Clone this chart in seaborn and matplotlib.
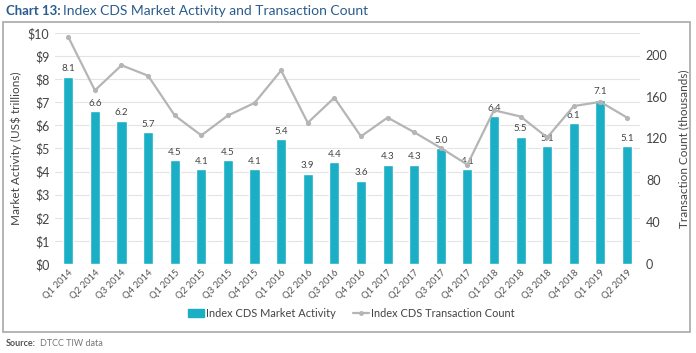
import matplotlib
matplotlib.use("Agg")
from matplotlib import pyplot as plt
from matplotlib.lines import Line2D
from matplotlib.patches import Patch, Rectangle
import seaborn as sns
import pandas as pd

QUARTERS = [
    "Q1 2014", "Q2 2014", "Q3 2014", "Q4 2014",
    "Q1 2015", "Q2 2015", "Q3 2015", "Q4 2015",
    "Q1 2016", "Q2 2016", "Q3 2016", "Q4 2016",
    "Q1 2017", "Q2 2017", "Q3 2017", "Q4 2017",
    "Q1 2018", "Q2 2018", "Q3 2018", "Q4 2018",
    "Q1 2019", "Q2 2019",
]
# market activity, US$ trillions
ACTIVITY = [8.1, 6.6, 6.2, 5.7, 4.5, 4.1, 4.5, 4.1, 5.4, 3.9, 4.4,
            3.6, 4.3, 4.3, 5.0, 4.1, 6.4, 5.5, 5.1, 6.1, 7.1, 5.1]
# transaction count, thousands
COUNT = [217, 166, 190, 180, 142, 123, 142, 154, 185, 135, 159,
         122, 140, 126, 111, 95, 147, 141, 121, 151, 155, 140]

BAR_COLOR = "#1aafc4"
LINE_COLOR = "#b5b5b5"
TEXT_COLOR = "#444444"
TITLE_COLOR = "#2a5c8d"


def main():
    sns.set_style("white")
    plt.rcParams["font.family"] = ["Lato", "DejaVu Sans"]

    df = pd.DataFrame({"quarter": QUARTERS, "activity": ACTIVITY, "count": COUNT})

    fig = plt.figure(figsize=(6.96, 3.53), dpi=100)
    ax = fig.add_axes([0.079, 0.252, 0.841, 0.655])

    sns.barplot(data=df, x="quarter", y="activity", color=BAR_COLOR,
                saturation=1, width=0.38, ax=ax)
    for i, v in enumerate(ACTIVITY):
        ax.text(i, v + 0.15, f"{v:.1f}", ha="center", va="bottom",
                fontsize=7, color=TEXT_COLOR)

    ax.set_ylim(0, 10)
    ax.set_yticks(range(0, 11))
    ax.set_yticklabels([f"${v}" for v in range(0, 11)])
    ax.set_xlim(-0.5, len(QUARTERS) - 0.5)
    ax.grid(axis="y", color="#e4e4e4", linewidth=0.8)
    ax.set_axisbelow(True)
    ax.set_xlabel("")
    ax.set_ylabel("Market Activity (US$ trillions)", fontsize=8.5, color=TEXT_COLOR)
    ax.tick_params(axis="y", labelsize=9, colors=TEXT_COLOR, length=0, pad=4)
    ax.tick_params(axis="x", labelsize=6.8, colors="#555555", length=0, pad=3)
    for lab in ax.get_xticklabels():
        lab.set_rotation(45)
        lab.set_ha("right")
        lab.set_rotation_mode("anchor")
    sns.despine(ax=ax, left=True, bottom=True)

    ax2 = ax.twinx()
    sns.pointplot(data=df, x="quarter", y="count", color=LINE_COLOR,
                  markers="o", markersize=2.5, linewidth=1.6, ax=ax2)
    ax2.set_ylim(0, 221)
    ax2.set_yticks(range(0, 201, 40))
    ax2.set_xlim(-0.5, len(QUARTERS) - 0.5)
    ax2.set_ylabel("Transaction Count (thousands)", fontsize=8.5, color=TEXT_COLOR,
                   labelpad=8)
    ax2.tick_params(axis="y", labelsize=9, colors=TEXT_COLOR, length=0, pad=4)
    ax2.set_xlabel("")
    sns.despine(ax=ax2, left=True, bottom=True, right=True)

    handles = [
        Patch(color=BAR_COLOR, label="Index CDS Market Activity"),
        Line2D([], [], color=LINE_COLOR, marker="o", markersize=2.5,
               linewidth=1.6, label="Index CDS Transaction Count"),
    ]
    fig.legend(handles=handles, loc="center", bbox_to_anchor=(0.505, 0.113),
               ncol=2, frameon=False, fontsize=7.9, handlelength=1.4,
               handletextpad=0.2, columnspacing=1.6, labelcolor=TEXT_COLOR)

    # outer frame
    fig.add_artist(Rectangle((0.004, 0.06), 0.988, 0.878, transform=fig.transFigure,
                             fill=False, edgecolor="#a8a8a8", linewidth=1.2))

    fig.text(0.008, 0.968, "Chart 13:", fontsize=9.5, fontweight="bold",
             color=TITLE_COLOR, va="center")
    fig.text(0.091, 0.968, "Index CDS Market Activity and Transaction Count",
             fontsize=10, color=TITLE_COLOR, va="center")
    fig.text(0.008, 0.028, "Source:", fontsize=6.5, fontweight="bold",
             color="#555555", va="center")
    fig.text(0.058, 0.028, "DTCC TIW data", fontsize=6.5, color="#777777",
             va="center")

    fig.savefig("out.png", dpi=100)


if __name__ == "__main__":
    main()
